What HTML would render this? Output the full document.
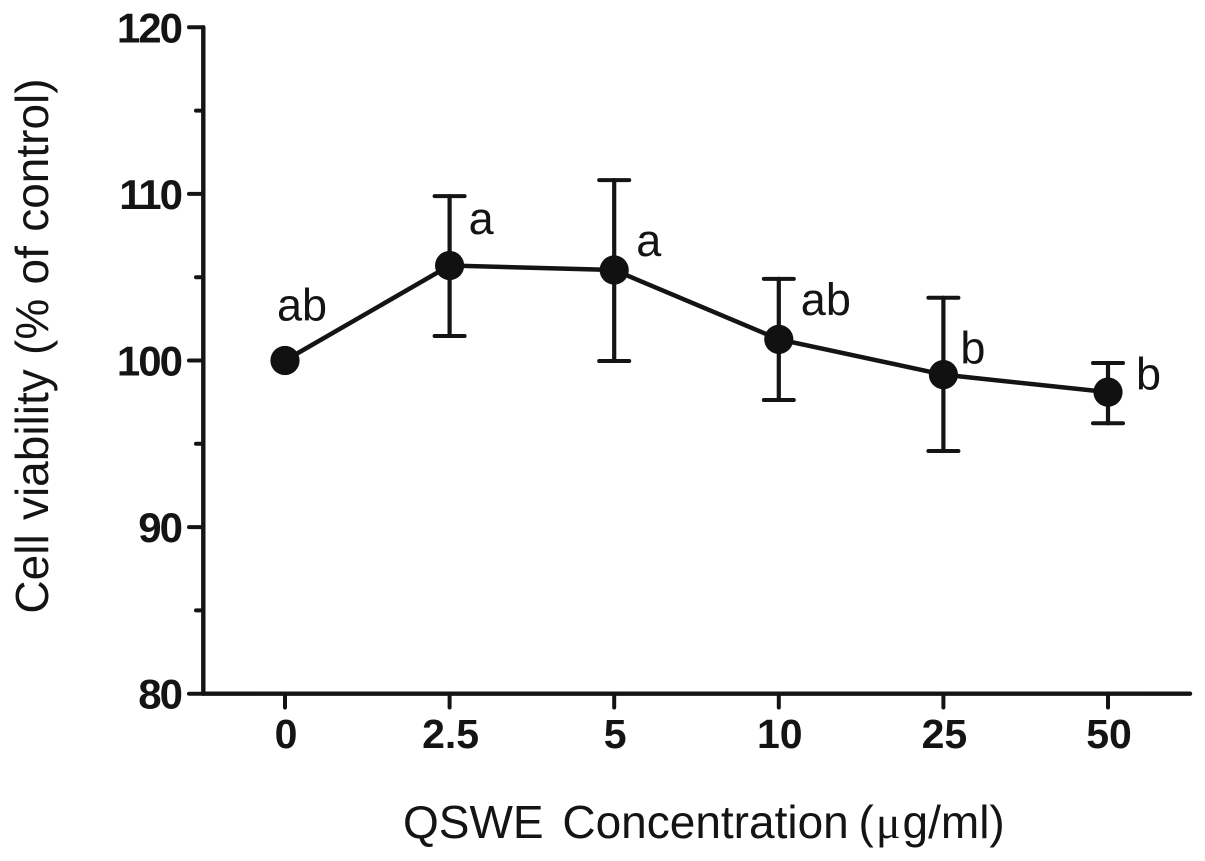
<!DOCTYPE html>
<html>
<head>
<meta charset="utf-8">
<style>
html,body{margin:0;padding:0;background:#fff;}
svg{display:block;}
text{font-family:"Liberation Sans",sans-serif;fill:#141414;}
</style>
</head>
<body>
<svg id="chart" width="1205" height="861" viewBox="0 0 1205 861" xmlns="http://www.w3.org/2000/svg">
<text transform="translate(48,346) rotate(-90)" text-anchor="middle" font-size="46" word-spacing="1.5">Cell viability (% of control)</text>
<text x="403" y="838" font-size="46" word-spacing="1">QSWE <tspan dx="5">Concentration</tspan> <tspan dx="-4">(</tspan><tspan dx="2" font-family="Liberation Serif">μ</tspan><tspan dx="2">g/ml)</tspan></text>
</svg>
<script>
const categories = ['0','2.5','5','10','25','50'];
const meanValues = [100,105.7,105.43,101.27,99.15,98.1];
const upperValues = [100,109.87,110.83,104.9,103.77,99.85];
const lowerValues = [100,101.47,99.97,97.63,94.57,96.23];
const significanceLabels = ['ab','a','a','ab','b','b'];
const yTickLabels = [80,90,100,110,120];
const yMinorTicks = [85,95,105,115];

const svg = document.getElementById('chart');
const NS = 'http://www.w3.org/2000/svg';
const INK = '#141414';
const yOf = v => 693.7 + (v - 80) * (27.3 - 693.7) / 40;
const xOf = i => 285 + i * (1108 - 285) / 5;

function mk(tag, attrs, text){
  const e = document.createElementNS(NS, tag);
  for (const k in attrs) e.setAttribute(k, attrs[k]);
  if (text !== undefined) e.textContent = text;
  svg.appendChild(e);
  return e;
}
function seg(x1,y1,x2,y2,w){
  return mk('line',{x1:x1,y1:y1,x2:x2,y2:y2,stroke:INK,'stroke-width':w,'stroke-linecap':'round'});
}

// axes
let el = seg(203.3,yOf(120),203.3,yOf(80),4.4);


el = seg(203.3,yOf(80),1190,yOf(80),4.4);



// y ticks
yTickLabels.forEach(v => {
  const t = seg(189,yOf(v),203.3,yOf(v),4);
  
  
  const l = mk('text',{x:181,y:yOf(v)+15,'text-anchor':'end','font-size':42,'font-weight':'bold','letter-spacing':'-2'},v);
  
  
});
yMinorTicks.forEach(v => {
  const t = seg(196,yOf(v),203.3,yOf(v),4);
  
  
});

// x ticks
categories.forEach((c,i) => {
  const t = seg(xOf(i),yOf(80),xOf(i),707.5,4);
  
  
  const l = mk('text',{x:xOf(i)+1,y:748,'text-anchor':'middle','font-size':41,'font-weight':'bold'},c);
  
  
});

// connecting line
const line = mk('polyline',{points:meanValues.map((v,i)=>xOf(i)+','+yOf(v)).join(' '),fill:'none',stroke:INK,'stroke-width':4.5});



// error bars
categories.forEach((c,i) => {
  if (upperValues[i] === lowerValues[i]) return;
  const x = xOf(i);
  const capHalf = 15;
  const v = seg(x,yOf(upperValues[i]),x,yOf(lowerValues[i]),4.2);
  
  
  const u = seg(x-capHalf,yOf(upperValues[i]),x+capHalf,yOf(upperValues[i]),4);
  
  
  const d = seg(x-capHalf,yOf(lowerValues[i]),x+capHalf,yOf(lowerValues[i]),4);
  
  
});

// points
meanValues.forEach((v,i) => {
  const p = mk('circle',{cx:xOf(i),cy:yOf(v),r:14.6,fill:'#111'});
  
  
});

// significance letters, placed relative to each mean point
const labelDx = [-8,19,22,22,17,28];
const labelDy = [-40,-31.3,-14,-24.3,-11.4,-2.7];
significanceLabels.forEach((s,i) => {
  const l = mk('text',{x:xOf(i)+labelDx[i],y:yOf(meanValues[i])+labelDy[i],'font-size':45},s);
  
  
});
</script>
</body>
</html>
